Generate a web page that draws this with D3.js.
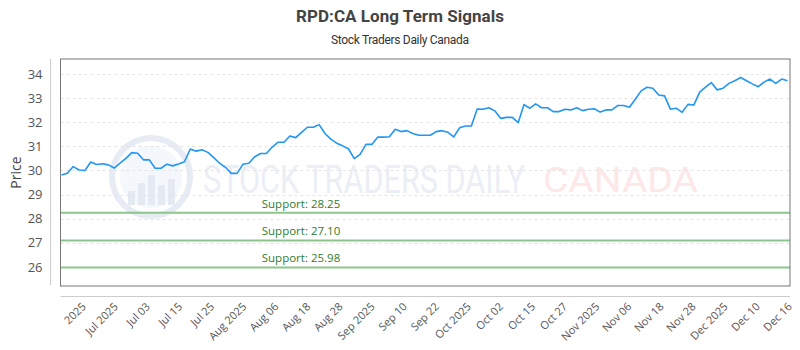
<!DOCTYPE html>
<html>
<head>
<meta charset="utf-8">
<script src="https://cdn.jsdelivr.net/npm/d3@7"></script>
<style>
  body { margin: 0; background: #fff; }
  #chart { width: 800px; height: 350px; }
</style>
</head>
<body>
<div id="chart"></div>
<script>
var title = 'RPD:CA Long Term Signals'
var subtitle = 'Stock Traders Daily Canada'

var prices = [
  29.81, 29.88, 30.16, 30.02, 30.00, 30.35, 30.25, 30.28, 30.23, 30.10,
  30.30, 30.50, 30.74, 30.71, 30.44, 30.44, 30.09, 30.09, 30.26, 30.19,
  30.27, 30.36, 30.89, 30.80, 30.86, 30.75, 30.53, 30.30, 30.13, 29.88,
  29.88, 30.26, 30.30, 30.57, 30.70, 30.70, 30.97, 31.17, 31.17, 31.43,
  31.36, 31.58, 31.79, 31.79, 31.90, 31.53, 31.30, 31.13, 31.02, 30.90,
  30.49, 30.67, 31.08, 31.08, 31.38, 31.38, 31.40, 31.71, 31.61, 31.65,
  31.53, 31.46, 31.46, 31.46, 31.61, 31.65, 31.58, 31.39, 31.77, 31.84,
  31.84, 32.55, 32.54, 32.60, 32.47, 32.16, 32.20, 32.20, 31.98, 32.73,
  32.58, 32.76, 32.60, 32.60, 32.44, 32.44, 32.54, 32.51, 32.60, 32.48,
  32.54, 32.56, 32.42, 32.51, 32.51, 32.69, 32.69, 32.62, 32.95, 33.30,
  33.45, 33.41, 33.13, 33.09, 32.54, 32.58, 32.41, 32.74, 32.71, 33.25,
  33.45, 33.64, 33.34, 33.41, 33.61, 33.72, 33.85, 33.72, 33.59, 33.47,
  33.66, 33.79, 33.61, 33.79, 33.72
]

var tickLabels = [
  '2025', 'Jul 2025', 'Jul 03', 'Jul 15', 'Jul 25', 'Aug 2025', 'Aug 06',
  'Aug 18', 'Aug 28', 'Sep 2025', 'Sep 10', 'Sep 22', 'Oct 2025', 'Oct 02',
  'Oct 15', 'Oct 27', 'Nov 2025', 'Nov 06', 'Nov 18', 'Nov 28', 'Dec 2025',
  'Dec 10', 'Dec 16'
]

var yTicks = [26, 27, 28, 29, 30, 31, 32, 33, 34]
var supports = [28.25, 27.10, 25.98]

var width = 800, height = 350
var plot = { left: 60.5, right: 790, top: 59, bottom: 286 }

var svg = d3.select('#chart').append('svg')
            .attr('width', width)
            .attr('height', height)

var x = d3.scaleLinear()
          .domain([0, prices.length - 1])
          .range([plot.left + 1, plot.right - 2.5])

var y = d3.scaleLinear()
          .domain([25.21, 34.62])
          .range([plot.bottom, plot.top])

// label positions do not line up with the data, spread them evenly
var xLab = d3.scalePoint()
             .domain(tickLabels)
             .range([x(3.4), x(prices.length - 1)])

// titles
svg.append('text')
   .attr('x', 400).attr('y', 22)
   .attr('text-anchor', 'middle')
   .style('font-family', 'Roboto, sans-serif')
   .style('font-weight', 'bold')
   .style('font-size', '17px')
   .style('fill', '#444')
   .attr('textLength', 208)
   .text(title)

svg.append('text')
   .attr('x', 400).attr('y', 44)
   .attr('text-anchor', 'middle')
   .style('font-family', 'Roboto, sans-serif')
   .style('font-size', '12px')
   .style('fill', '#333')
   .attr('textLength', 138)
   .text(subtitle)

// watermark
var wm = svg.append('g').style('pointer-events', 'none')
wm.append('circle')
  .attr('cx', 151).attr('cy', 177).attr('r', 39)
  .attr('fill', 'none')
  .attr('stroke', '#e6ebf4')
  .attr('stroke-width', 6)
wm.append('circle')
  .attr('cx', 151).attr('cy', 177).attr('r', 31)
  .attr('fill', '#f4f7fb')
var barH = [14, 22, 30, 20, 26]
barH.forEach(function(h, i) {
  wm.append('rect')
    .attr('x', 128 + i * 10).attr('y', 205 - h)
    .attr('width', 7).attr('height', h)
    .attr('fill', '#e5eaf2')
})
// tall narrow lettering: smaller font stretched vertically
wm.append('text')
  .attr('transform', 'translate(203,193) scale(1,1.4)')
  .style('font-family', 'Roboto, sans-serif')
  .style('font-size', '28px')
  .style('fill', '#ebeff5')
  .attr('textLength', 322)
  .attr('lengthAdjust', 'spacingAndGlyphs')
  .text('STOCK TRADERS DAILY')
wm.append('text')
  .attr('transform', 'translate(543,192) scale(1,1.3)')
  .style('font-family', 'Roboto, sans-serif')
  .style('font-size', '27px')
  .style('fill', '#fde7e7')
  .attr('textLength', 155)
  .attr('lengthAdjust', 'spacingAndGlyphs')
  .text('CANADA')

// grid
svg.append('g')
   .selectAll('line')
   .data(yTicks)
   .enter().append('line')
     .attr('x1', plot.left).attr('x2', plot.right)
     .attr('y1', function(d) { return Math.round(y(d)) + 0.5 })
     .attr('y2', function(d) { return Math.round(y(d)) + 0.5 })
     .attr('stroke', '#e4e4e4')
     .attr('stroke-dasharray', '3,3')

// support lines
var sup = svg.append('g')
sup.selectAll('line')
   .data(supports)
   .enter().append('line')
     .attr('x1', plot.left).attr('x2', plot.right)
     .attr('y1', function(d) { return y(d) })
     .attr('y2', function(d) { return y(d) })
     .attr('stroke', '#8cc68c')
     .attr('stroke-width', 2)
sup.selectAll('text')
   .data(supports)
   .enter().append('text')
     .attr('x', 301)
     .attr('y', function(d) { return y(d) - 5 })
     .attr('text-anchor', 'middle')
     .style('font-family', '"Open Sans", sans-serif')
     .style('font-size', '11.5px')
     .style('fill', '#2e7d32')
     .text(function(d) { return 'Support: ' + d.toFixed(2) })

// price line
var line = d3.line()
             .x(function(d, i) { return x(i) })
             .y(function(d) { return y(d) })

svg.append('path')
   .datum(prices)
   .attr('d', line)
   .attr('fill', 'none')
   .attr('stroke', '#2196f3')
   .attr('stroke-width', 1.6)
   .attr('stroke-linejoin', 'round')

// plot frame
svg.append('rect')
   .attr('x', plot.left).attr('y', plot.top)
   .attr('width', plot.right - plot.left)
   .attr('height', plot.bottom - plot.top)
   .attr('fill', 'none')
   .attr('stroke', '#777')

// y axis
var yAxis = svg.append('g')
               .attr('transform', 'translate(50.5,0)')
               .call(d3.axisLeft(y).tickValues(yTicks).tickSize(0).tickPadding(8))
yAxis.select('.domain')
     .attr('d', 'M0,' + plot.top + 'V' + (plot.bottom - 1))
     .attr('stroke', '#ccc')
yAxis.selectAll('text')
     .style('font-family', '"Open Sans", sans-serif')
     .style('font-size', '13px')
     .style('fill', '#555')

svg.append('text')
   .attr('transform', 'translate(21,' + ((plot.top + plot.bottom) / 2) + ') rotate(-90)')
   .attr('text-anchor', 'middle')
   .style('font-family', '"Open Sans", sans-serif')
   .style('font-size', '14px')
   .style('fill', '#444')
   .text('Price')

// x axis
var xAxis = svg.append('g')
               .attr('transform', 'translate(0,296.5)')
               .call(d3.axisBottom(xLab).tickSize(0).tickPadding(6))
xAxis.select('.domain')
     .attr('d', 'M' + plot.left + ',0H' + plot.right)
     .attr('stroke', '#ccc')
xAxis.selectAll('text')
     .style('font-family', '"Open Sans", sans-serif')
     .style('font-size', '11px')
     .style('fill', '#555')
     .attr('text-anchor', 'end')
     .attr('dy', '0.35em')
     .attr('transform', 'translate(2,8) rotate(-45)')
     .attr('y', 0)
     .attr('x', 0)
</script>
</body>
</html>
